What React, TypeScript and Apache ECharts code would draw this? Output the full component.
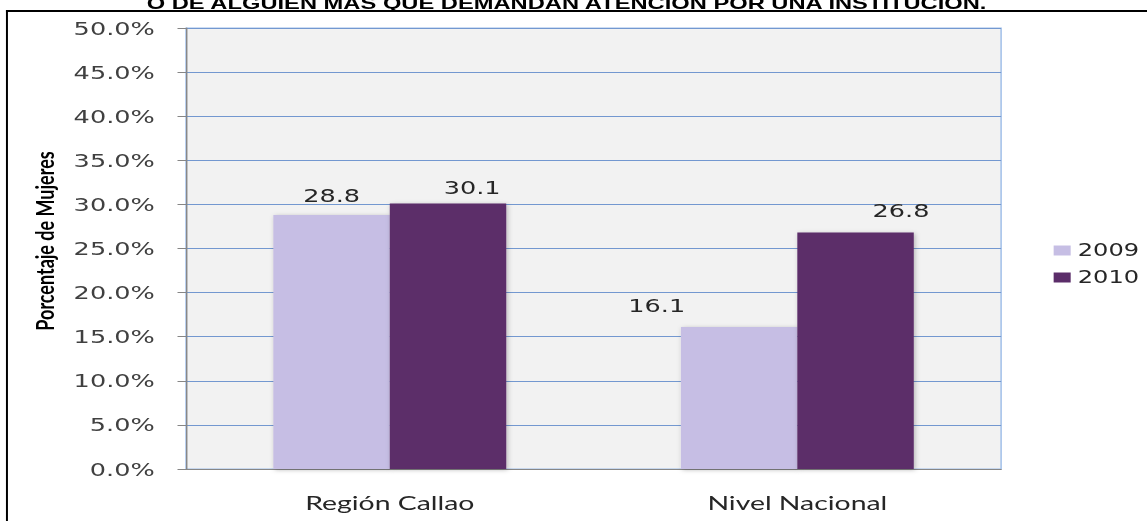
import React, { useEffect, useRef } from "react";
import * as echarts from "echarts";

const categories = ["Región Callao", "Nivel Nacional"];
const seriesNames = ["2009", "2010"];
const values2009 = [28.8, 16.1];
const values2010 = [30.1, 26.8];
const yMin = 0;
const yMax = 50;
const yStep = 5;
const titleText = "O DE ALGUIEN MÁS QUE DEMANDAN ATENCIÓN POR UNA INSTITUCIÓN.";
const yAxisTitle = "Porcentaje de Mujeres";

// label nudges (style only)
const labelOffsets2009 = [[0, -11], [-58, -12.5]];
const labelOffsets2010 = [[17, -7.5], [32, -13.5]];

const STRETCH = 1.42;
const OUT_W = 1147;
const OUT_H = 521;
const IN_W = Math.round(OUT_W / STRETCH);

const color2009 = "#C6BEE4";
const color2010 = "#5B2D69";

export default function App() {
  const ref = useRef<HTMLDivElement>(null);
  useEffect(() => {
    if (!ref.current) return;
    const chart = echarts.init(ref.current, null, { renderer: "svg" });
    const labelFont = {
      fontFamily: "DejaVu Sans",
      fontSize: 18,
      color: "#262626",
    };
    const mkData = (vals: number[], offs: number[][]) =>
      vals.map((v, i) => ({
        value: v,
        label: { offset: offs[i] },
      }));
    const barStyle = (c: string) => ({
      color: c,
      shadowColor: "rgba(0,0,0,0.25)",
      shadowBlur: 4,
      shadowOffsetX: 1,
      shadowOffsetY: 1,
    });
    chart.setOption({
      animation: false,
      backgroundColor: "#ffffff",
      grid: {
        left: 131,
        right: IN_W - 705,
        top: 28,
        bottom: OUT_H - 469,
        show: true,
        backgroundColor: "#F2F2F2",
        borderColor: "#9CBCE8",
        borderWidth: 1,
      },
      legend: {
        orient: "vertical",
        left: 742,
        top: 242,
        padding: 0,
        itemWidth: 12,
        itemHeight: 10,
        itemGap: 10,
        icon: "rect",
        data: seriesNames,
        textStyle: {
          fontFamily: "DejaVu Sans",
          fontSize: 17,
          color: "#262626",
          padding: [0, 0, 12, 0],
        },
      },
      xAxis: {
        type: "category",
        data: categories,
        axisLine: { show: true, lineStyle: { color: "#868686", width: 1 } },
        axisTick: { show: false },
        axisLabel: {
          margin: 23,
          fontFamily: "Lato",
          fontSize: 20,
          color: "#262626",
        },
        splitLine: { show: false },
      },
      yAxis: {
        type: "value",
        min: yMin,
        max: yMax,
        interval: yStep,
        axisLine: { show: true, lineStyle: { color: "#868686", width: 1 } },
        axisTick: { show: true, length: 6, lineStyle: { color: "#868686" } },
        axisLabel: {
          margin: 22,
          fontFamily: "DejaVu Sans",
          fontSize: 18,
          color: "#404040",
          formatter: (v: number) => v.toFixed(1) + "%",
        },
        splitLine: { show: true, lineStyle: { color: "#7398D0", width: 1 } },
      },
      series: [
        {
          name: seriesNames[0],
          type: "bar",
          data: mkData(values2009, labelOffsets2009),
          barWidth: 82,
          barGap: "0%",
          itemStyle: barStyle(color2009),
          label: {
            show: true,
            position: "top",
            distance: 0,
            formatter: (p: any) => Number(p.value).toFixed(1),
            ...labelFont,
          },
        },
        {
          name: seriesNames[1],
          type: "bar",
          data: mkData(values2010, labelOffsets2010),
          barWidth: 82,
          barGap: "0%",
          itemStyle: barStyle(color2010),
          label: {
            show: true,
            position: "top",
            distance: 0,
            formatter: (p: any) => Number(p.value).toFixed(1),
            ...labelFont,
          },
        },
      ],
      graphic: [
        {
          type: "text",
          x: 399,
          y: 11,
          style: {
            text: titleText,
            fontFamily: "Liberation Sans",
            fontWeight: "bold",
            fontSize: 16.7,
            fill: "#000000",
            textAlign: "center",
            textVerticalAlign: "bottom",
          },
        },
        {
          type: "line",
          shape: { x1: 4.9, y1: 10, x2: 4.9, y2: OUT_H + 10 },
          style: { stroke: "#000000", lineWidth: 1.4 },
        },
        {
          type: "line",
          shape: { x1: 4.2, y1: 11, x2: IN_W + 10, y2: 11 },
          style: { stroke: "#000000", lineWidth: 2 },
        },
        {
          type: "text",
          x: 31,
          y: 241,
          rotation: Math.PI / 2,
          style: {
            text: yAxisTitle,
            fontFamily: "Lato",
            fontWeight: "bold",
            fontSize: 18,
            fill: "#000000",
            textAlign: "center",
            textVerticalAlign: "middle",
          },
        },
      ],
    });
    return () => chart.dispose();
  }, []);

  return (
    <div
      style={{
        position: "fixed",
        left: 0,
        top: 0,
        width: OUT_W,
        height: OUT_H,
        overflow: "hidden",
        background: "#ffffff",
      }}
    >
      <div
        ref={ref}
        style={{
          width: IN_W,
          height: OUT_H,
          transform: `scaleX(${STRETCH})`,
          transformOrigin: "0 0",
        }}
      />
    </div>
  );
}
